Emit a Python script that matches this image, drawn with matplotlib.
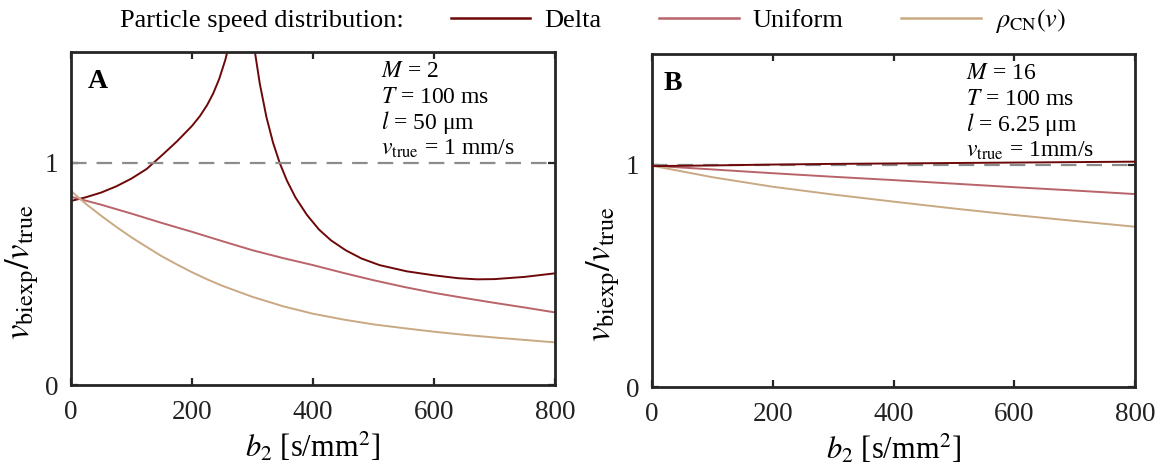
import matplotlib
matplotlib.use("Agg")
import matplotlib.pyplot as plt
from matplotlib.lines import Line2D

plt.rcParams['font.family'] = ['Liberation Serif', 'DejaVu Serif']
plt.rcParams['mathtext.fontset'] = 'stix'

# ---- data: panel A (M = 2) ----
b_delta_A1 = [0, 25, 50, 75, 100, 125, 136, 150, 175, 200, 213, 225, 235, 245, 255, 262, 268]
v_delta_A1 = [0.829, 0.846, 0.867, 0.895, 0.930, 0.973, 1.0, 1.034, 1.097, 1.167, 1.211, 1.261, 1.313, 1.379, 1.464, 1.541, 1.62]
b_delta_A2 = [300, 304, 312, 323, 334, 345, 357, 371, 390, 410, 430, 454, 480, 510, 555, 600, 640, 671, 700, 750, 800]
v_delta_A2 = [1.585, 1.50, 1.358, 1.207, 1.091, 1.0, 0.92, 0.845, 0.766, 0.70, 0.651, 0.607, 0.57, 0.54, 0.512, 0.494, 0.481, 0.476, 0.477, 0.487, 0.503]

b_A = [0, 25, 50, 75, 100, 125, 150, 175, 200, 225, 250, 300, 350, 400, 450, 500, 550, 600, 650, 700, 750, 800]
v_unif_A = [0.848, 0.830, 0.812, 0.792, 0.772, 0.751, 0.730, 0.710, 0.690, 0.669, 0.648, 0.607, 0.572, 0.540, 0.505, 0.472, 0.442, 0.415, 0.392, 0.370, 0.349, 0.327]
v_cn_A = [0.874, 0.815, 0.762, 0.712, 0.665, 0.622, 0.580, 0.543, 0.508, 0.476, 0.447, 0.397, 0.355, 0.321, 0.295, 0.273, 0.256, 0.240, 0.226, 0.214, 0.203, 0.192]

# ---- data: panel B (M = 16) ----
b_B = [0, 100, 200, 300, 400, 500, 600, 700, 800]
v_delta_B = [0.995, 0.998, 1.002, 1.005, 1.007, 1.009, 1.011, 1.013, 1.015]
v_unif_B = [0.997, 0.980, 0.963, 0.947, 0.932, 0.916, 0.900, 0.885, 0.869]
v_cn_B = [0.997, 0.945, 0.902, 0.867, 0.835, 0.804, 0.775, 0.748, 0.722]

x_ticks = [0, 200, 400, 600, 800]
y_ticks = [0, 1]

c_delta = '#6e0808'
c_unif = '#b9636a'
c_cn = '#c9a983'
c_ref = '#8c8c8c'
c_spine = '#262626'

fig = plt.figure(figsize=(11.67, 4.65), dpi=100)
axA = fig.add_axes([71/1167, 80/465, 484/1167, 333/465])
axB = fig.add_axes([652/1167, 78/465, 483/1167, 333/465])

lw = 1.4
axA.plot(b_delta_A1, v_delta_A1, color=c_delta, lw=lw)
axA.plot(b_delta_A2, v_delta_A2, color=c_delta, lw=lw)
axA.plot(b_A, v_unif_A, color=c_unif, lw=lw)
axA.plot(b_A, v_cn_A, color=c_cn, lw=lw)

axB.plot(b_B, v_delta_B, color=c_delta, lw=lw, zorder=3)
axB.plot(b_B, v_unif_B, color=c_unif, lw=lw)
axB.plot(b_B, v_cn_B, color=c_cn, lw=lw)

for ax in (axA, axB):
    ax.axhline(1, color=c_ref, lw=1.6, ls=(0, (7, 4.5)), zorder=2)
    ax.set_xlim(0, 800)
    ax.set_ylim(0, 1.5)
    ax.set_xticks(x_ticks)
    ax.set_yticks(y_ticks)
    ax.tick_params(direction='in', length=5, width=1.6, top=True, right=True,
                   labelsize=19.5, colors=c_spine, labelcolor='#222222')
    ax.tick_params(axis='x', pad=11)
    ax.tick_params(axis='y', pad=9)
    for s in ax.spines.values():
        s.set_linewidth(2)
        s.set_color(c_spine)
    ax.set_xlabel(r'$b_2$ [s/mm$^2$]', fontsize=22, labelpad=4)
    ax.set_ylabel(r'$v_{\mathrm{biexp}}/v_{\mathrm{true}}$', fontsize=25)
    ax.yaxis.set_label_coords(-0.062, 0.34)

# annotations
axA.text(0.035, 0.892, 'A', transform=axA.transAxes, fontsize=20, fontweight='bold')
axB.text(0.023, 0.892, 'B', transform=axB.transAxes, fontsize=20, fontweight='bold')

linesA = [r'$M$ = 2', r'$T$ = 100 ms', r'$l$ = 50 μm', r'$v_{\mathrm{true}}$ = 1 mm/s']
linesB = [r'$M$ = 16', r'$T$ = 100 ms', r'$l$ = 6.25 μm', r'$v_{\mathrm{true}}$ = 1mm/s']
for ax, lines, x0 in ((axA, linesA, 0.64), (axB, linesB, 0.65)):
    for i, t in enumerate(lines):
        ax.text(x0, 0.925 - i * 0.078, t, transform=ax.transAxes, fontsize=17,
                va='baseline', ha='left')

# legend
fig.text(120/1167, 1 - 21/465, 'Particle speed distribution:', fontsize=19, va='center', ha='left')
handles = [Line2D([], [], color=c_delta, lw=1.8),
           Line2D([], [], color=c_unif, lw=1.8),
           Line2D([], [], color=c_cn, lw=1.8)]
labels = ['Delta', 'Uniform', r'$\rho_{\mathrm{CN}}(v)$']
fig.legend(handles, labels, loc='center left', bbox_to_anchor=(451/1167, 1 - 21/465),
           ncol=3, frameon=False, fontsize=19, handlelength=3.0, handletextpad=0.53,
           columnspacing=2.2, borderpad=0, borderaxespad=0)

fig.savefig('out.png', dpi=100)
